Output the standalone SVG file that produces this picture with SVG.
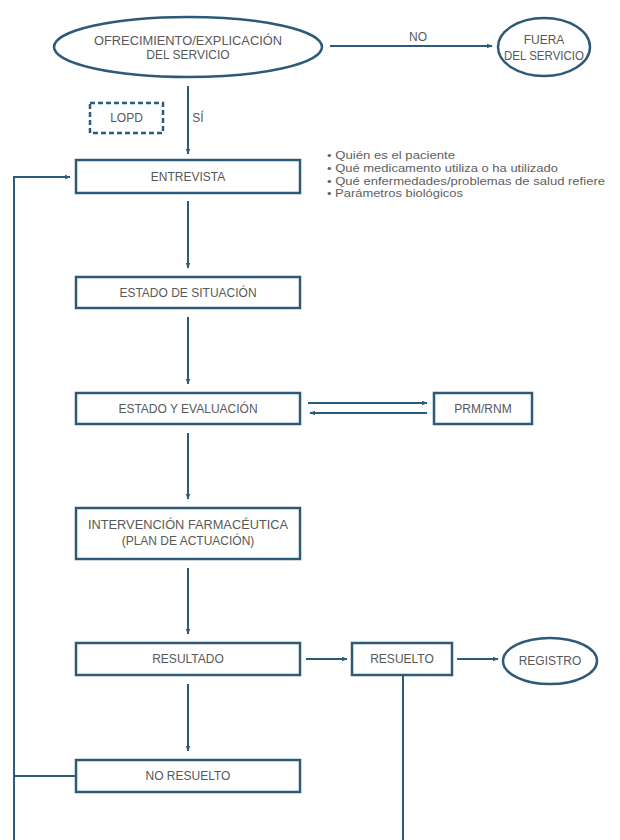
<svg xmlns="http://www.w3.org/2000/svg" width="620" height="840" viewBox="0 0 620 840">
<style>
.box{fill:#fff;stroke:#2d5a78;stroke-width:2.5}
.dash{fill:#fff;stroke:#2d5a78;stroke-width:2.5;stroke-dasharray:5,3}
.ln{fill:none;stroke:#2d5a78;stroke-width:2}
.t{font-family:"Liberation Sans",Arial,sans-serif;font-size:12px;fill:#585858;text-anchor:middle;dominant-baseline:central}
.b{font-family:"Liberation Sans",Arial,sans-serif;font-size:11px;fill:#606060}
</style>
<defs>
<marker id="ah" viewBox="0 0 10 10" refX="9" refY="5" markerWidth="6" markerHeight="6" orient="auto" markerUnits="userSpaceOnUse">
<path d="M0,1 L10,5 L0,9 z" fill="#2d5a78"/>
</marker>
</defs>
<rect width="620" height="840" fill="#fff"/>
<g id="connectors">
<line class="ln" x1="330" y1="46" x2="492" y2="46" marker-end="url(#ah)"/>
<text class="t" x="418" y="37">NO</text>
<line class="ln" x1="188" y1="86" x2="188" y2="154" marker-end="url(#ah)"/>
<text class="t" x="198" y="118">SÍ</text>
<polyline class="ln" points="14,840 14,177 70,177" marker-end="url(#ah)"/>
<line class="ln" x1="188" y1="201" x2="188" y2="268" marker-end="url(#ah)"/>
<line class="ln" x1="188" y1="317" x2="188" y2="384" marker-end="url(#ah)"/>
<line class="ln" x1="308" y1="403" x2="427" y2="403" marker-end="url(#ah)"/>
<line class="ln" x1="427" y1="413" x2="310" y2="413" marker-end="url(#ah)"/>
<line class="ln" x1="188" y1="433" x2="188" y2="499" marker-end="url(#ah)"/>
<line class="ln" x1="188" y1="568" x2="188" y2="634" marker-end="url(#ah)"/>
<line class="ln" x1="306" y1="659" x2="347" y2="659" marker-end="url(#ah)"/>
<line class="ln" x1="457" y1="659" x2="498" y2="659" marker-end="url(#ah)"/>
<line class="ln" x1="188" y1="684" x2="188" y2="751" marker-end="url(#ah)"/>
<line class="ln" x1="403" y1="675" x2="403" y2="840"/>
<line class="ln" x1="76" y1="776" x2="14" y2="776"/>
</g>
<g id="ofrecimiento">
<ellipse class="box" cx="188" cy="47" rx="134" ry="30"/>
<text class="t" x="188" y="41" textLength="188" lengthAdjust="spacingAndGlyphs">OFRECIMIENTO/EXPLICACIÓN</text>
<text class="t" x="188" y="55">DEL SERVICIO</text>
</g>
<g id="fuera">
<ellipse class="box" cx="544" cy="47" rx="46" ry="29"/>
<text class="t" x="544" y="40">FUERA</text>
<text class="t" x="544" y="56" textLength="80" lengthAdjust="spacingAndGlyphs">DEL SERVICIO</text>
</g>
<g id="lopd">
<rect class="dash" x="90" y="103" width="73" height="30"/>
<text class="t" x="126.5" y="118">LOPD</text>
</g>
<g id="notas">
<text class="b" x="327" y="158.5" textLength="128" lengthAdjust="spacingAndGlyphs">• Quién es el paciente</text>
<text class="b" x="327" y="171.5" textLength="231" lengthAdjust="spacingAndGlyphs">• Qué medicamento utiliza o ha utilizado</text>
<text class="b" x="327" y="184.5" textLength="278" lengthAdjust="spacingAndGlyphs">• Qué enfermedades/problemas de salud refiere</text>
<text class="b" x="327" y="197" textLength="136" lengthAdjust="spacingAndGlyphs">• Parámetros biológicos</text>
</g>
<g id="entrevista">
<rect class="box" x="76" y="160" width="224" height="33"/>
<text class="t" x="188" y="177">ENTREVISTA</text>
</g>
<g id="situacion">
<rect class="box" x="76" y="277" width="224" height="31"/>
<text class="t" x="188" y="292.5">ESTADO DE SITUACIÓN</text>
</g>
<g id="evaluacion">
<rect class="box" x="76" y="393" width="224" height="31"/>
<text class="t" x="188" y="408.5">ESTADO Y EVALUACIÓN</text>
</g>
<g id="prm">
<rect class="box" x="434" y="393" width="98" height="31"/>
<text class="t" x="483" y="408.5">PRM/RNM</text>
</g>
<g id="intervencion">
<rect class="box" x="76" y="508" width="224" height="51"/>
<text class="t" x="188" y="525" textLength="200" lengthAdjust="spacingAndGlyphs">INTERVENCIÓN FARMACÉUTICA</text>
<text class="t" x="188" y="541">(PLAN DE ACTUACIÓN)</text>
</g>
<g id="resultado">
<rect class="box" x="76" y="643" width="224" height="32"/>
<text class="t" x="188" y="659">RESULTADO</text>
</g>
<g id="resuelto">
<rect class="box" x="352" y="643" width="100" height="32"/>
<text class="t" x="402" y="659">RESUELTO</text>
</g>
<g id="registro">
<ellipse class="box" cx="550" cy="661" rx="47" ry="23"/>
<text class="t" x="550" y="661">REGISTRO</text>
</g>
<g id="noresuelto">
<rect class="box" x="76" y="760" width="224" height="32"/>
<text class="t" x="188" y="776">NO RESUELTO</text>
</g>
</svg>
